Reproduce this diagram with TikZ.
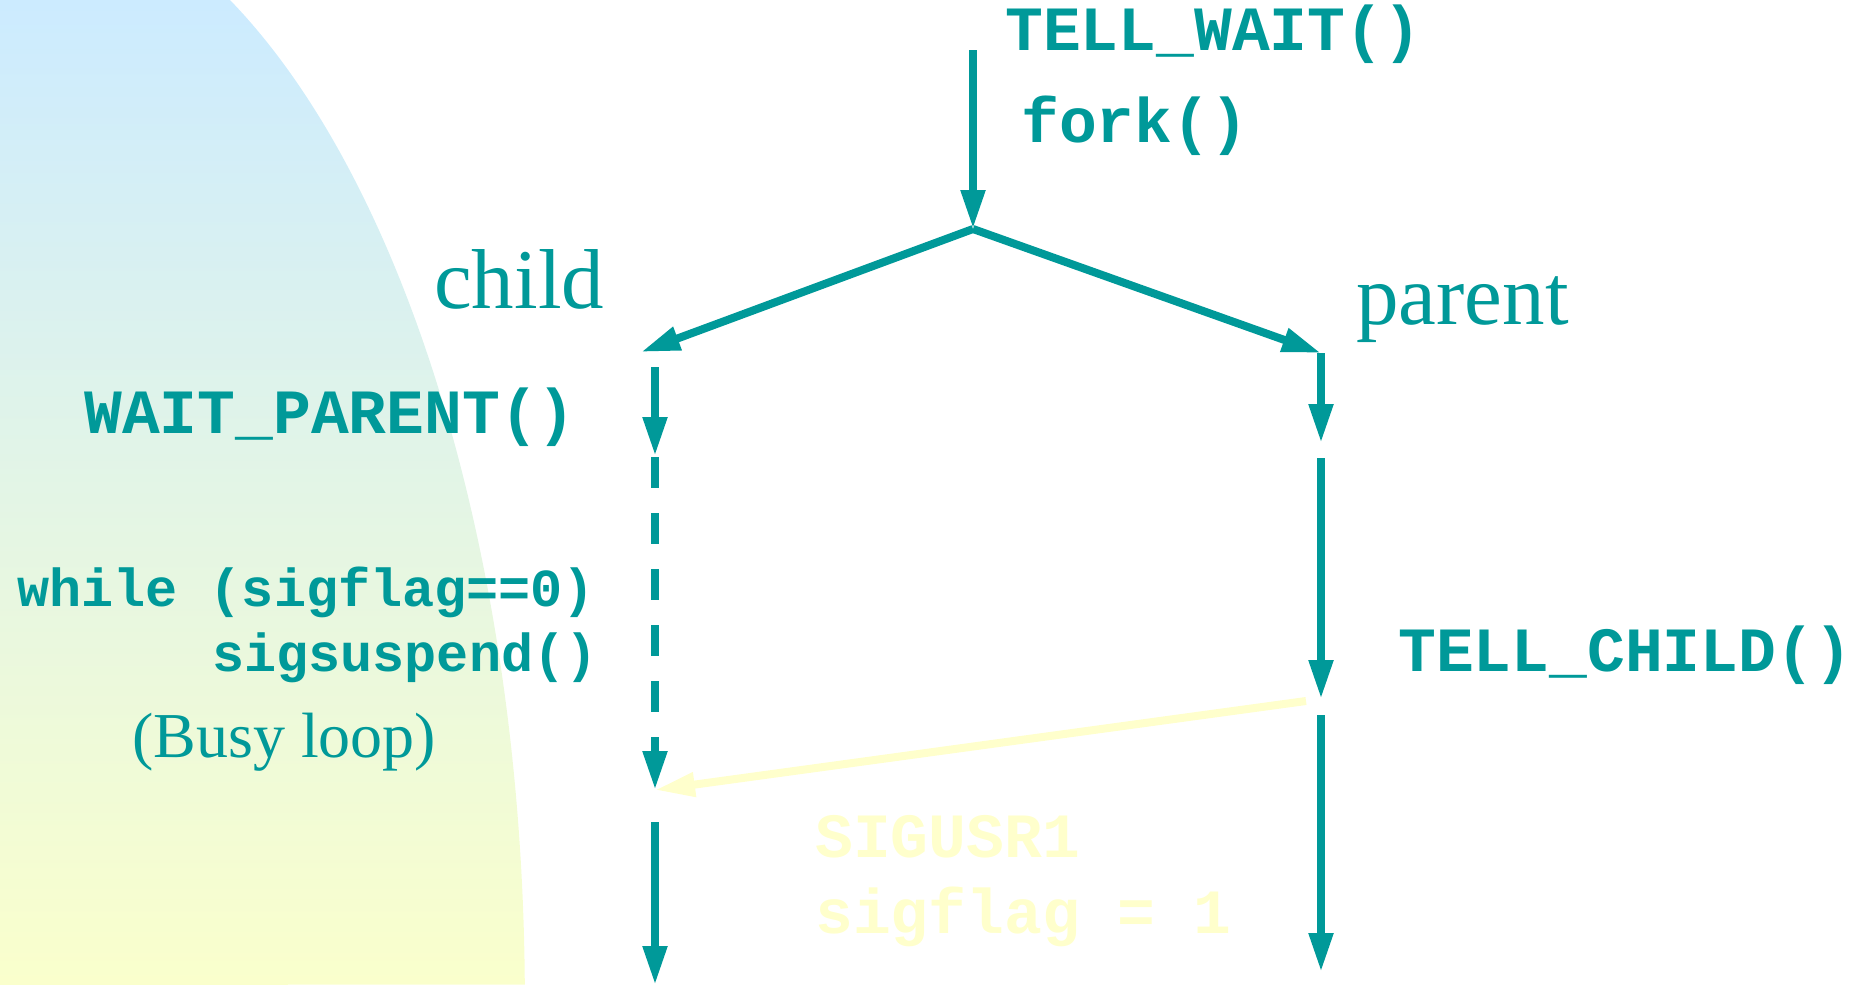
\documentclass[tikz,border=0pt]{standalone}
\usepackage{fontspec}
\setmainfont{Liberation Serif}
\setmonofont{Liberation Mono}
\usetikzlibrary{arrows.meta}
\definecolor{teal}{RGB}{0,153,153}
\definecolor{sigyellow}{RGB}{255,255,204}
\definecolor{bgblue}{RGB}{204,235,255}
\definecolor{bgyellow}{RGB}{250,255,204}
\tikzset{
  flow/.style={line width=8pt, draw=teal, -{Triangle[length=39pt,width=23pt]}},
  sigflow/.style={line width=8pt, draw=sigyellow, -{Triangle[length=40pt,width=23pt]}},
  code/.style={inner sep=0pt, anchor=base west, text=teal, font=\ttfamily\bfseries\fontsize{63}{70}\selectfont},
  smallcode/.style={code, font=\ttfamily\bfseries\fontsize{53.5}{60}\selectfont},
  label/.style={inner sep=0pt, anchor=base west, text=teal, font=\fontsize{85}{95}\selectfont},
  note/.style={inner sep=0pt, anchor=base west, text=teal, font=\fontsize{64}{72}\selectfont},
  sigtext/.style={code, text=sigyellow}
}
\begin{document}
\begin{tikzpicture}[x=1pt,y=-1pt]
\useasboundingbox (0,0) rectangle (1863,985);
% background
\shade[top color=bgblue, bottom color=bgyellow]
  (0,0) -- (230,0) arc[start angle=-64, end angle=-0.77, x radius=525, y radius=1112] -- (0,985) -- cycle;
% points
\coordinate (start) at (973,50);
\coordinate (fork) at (973,229);
\coordinate (ctop) at (641,352);
\coordinate (ptop) at (1321,353);
\coordinate (c1s) at (655,367);
\coordinate (c1e) at (655,456);
\coordinate (c2s) at (655,457);
\coordinate (c2e) at (655,790);
\coordinate (c3s) at (655,822);
\coordinate (c3e) at (655,985);
\coordinate (p1s) at (1321,353);
\coordinate (p1e) at (1321,443);
\coordinate (p2s) at (1321,458);
\coordinate (p2e) at (1321,699);
\coordinate (p3s) at (1321,715);
\coordinate (p3e) at (1321,972);
\coordinate (sigs) at (1306,701);
% connectors
\draw[flow] (start) -- (fork);
\draw[flow] (fork) -- (ctop);
\draw[flow] (fork) -- (ptop);
\draw[flow] (c1s) -- (c1e);
\draw[flow, dash pattern=on 31pt off 25pt] (c2s) -- (c2e);
\draw[flow] (c3s) -- (c3e);
\draw[flow] (p1s) -- (p1e);
\draw[flow] (p2s) -- (p2e);
\draw[flow] (p3s) -- (p3e);
\draw[sigflow] (sigs) -- (c2e);
% texts
\node[code] (tellwait) at (1005,50) {TELL\_WAIT()};
\node[code] (forkt) at (1021,142) {fork()};
\node[label] (child) at (434,308) {child};
\node[label] (parent) at (1356,324) {parent};
\node[code] (waitparent) at (84,433) {WAIT\_PARENT()};
\node[smallcode] (while) at (17,606) {while (sigflag==0)};
\node[smallcode] (sigsusp) at (212,671) {sigsuspend()};
\node[note] (busy) at (132,757) {(Busy loop)};
\node[code] (tellchild) at (1398,671) {TELL\_CHILD()};
\node[sigtext] (sigusr) at (815,857) {SIGUSR1};
\node[sigtext] (sigflag) at (815,933) {sigflag = 1};
\end{tikzpicture}
\end{document}
